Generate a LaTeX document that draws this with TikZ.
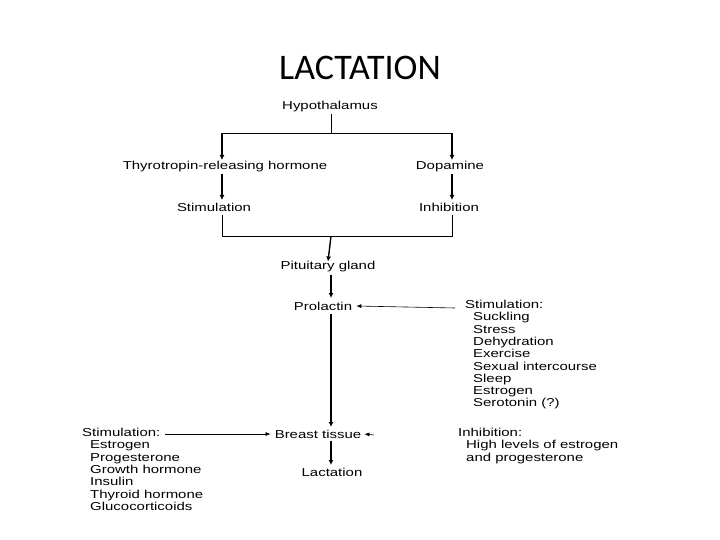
\documentclass[tikz,border=0pt]{standalone}
\usepackage{fontspec}
\setmainfont{Liberation Sans}[FakeStretch=1.3]
\newfontfamily\titlefont{Carlito}
\begin{document}
\begin{tikzpicture}[x=1pt,y=-1pt,
  lbl/.style={inner sep=0pt,font=\fontsize{11.5}{12.3}\selectfont},
  lst/.style={lbl,align=left,anchor=north west},
  arr/.style={-{Latex[length=5pt,width=5pt]},line width=1.4pt},
  thin/.style={-{Latex[length=5pt,width=4pt]},line width=0.6pt},
  ln/.style={line width=0.8pt}]
\usetikzlibrary{arrows.meta}
\useasboundingbox (0,0) rectangle (720,540);
\node[inner sep=0pt,font=\titlefont\fontsize{36}{40}\selectfont] (title) at (360,68) {LACTATION};
\node[lbl] (hyp) at (330,107) {Hypothalamus};
\node[lbl] (trh) at (225,167) {Thyrotropin-releasing hormone};
\node[lbl] (dop) at (450,167) {Dopamine};
\node[lbl] (stim) at (214,207) {Stimulation};
\node[lbl] (inh) at (449,207) {Inhibition};
\node[lbl] (pit) at (328,267) {Pituitary gland};
\node[lbl] (pro) at (323,306) {Prolactin};
\node[lbl] (bre) at (318,434) {Breast tissue};
\node[lbl] (lac) at (332,472) {Lactation};
\node[lst] (rs) at (465,300) {Stimulation:\\\hspace*{8pt}Suckling\\\hspace*{8pt}Stress\\\hspace*{8pt}Dehydration\\\hspace*{8pt}Exercise\\\hspace*{8pt}Sexual intercourse\\\hspace*{8pt}Sleep\\\hspace*{8pt}Estrogen\\\hspace*{8pt}Serotonin (?)};
\node[lst] (ls) at (82,428) {Stimulation:\\\hspace*{8pt}Estrogen\\\hspace*{8pt}Progesterone\\\hspace*{8pt}Growth hormone\\\hspace*{8pt}Insulin\\\hspace*{8pt}Thyroid hormone\\\hspace*{8pt}Glucocorticoids};
\node[lst] (ri) at (458,428) {Inhibition:\\\hspace*{8pt}High levels of estrogen\\\hspace*{8pt}and progesterone};
\coordinate (br1) at (222,133);
\coordinate (br2) at (452,133);
\coordinate (j1) at (222,236);
\coordinate (j2) at (452,236);
\coordinate (ia) at (374,435);
\draw[ln] (331,114) -- (331,133);
\draw[ln] (br1) -- (br2);
\draw[arr] (br1) -- (222,160);
\draw[arr] (br2) -- (452,160);
\draw[arr] (222,174) -- (222,200);
\draw[arr] (452,174) -- (452,200);
\draw[ln] (222,215) -- (j1) -- (j2) -- (452,215);
\draw[arr] (331,236) -- (pit.north);
\draw[arr] (331,275) -- (331,298);
\draw[arr] (331,314) -- (331,427);
\draw[arr] (331,441) -- (331,465);
\draw[thin] (rs.west |- pro) ++(-10,2) -- ([xshift=4pt]pro.east);
\draw[thin] (165,434) -- ([xshift=-4pt]bre.west);
\draw[thin] (ia) -- ([xshift=3pt]bre.east);
\end{tikzpicture}
\end{document}
